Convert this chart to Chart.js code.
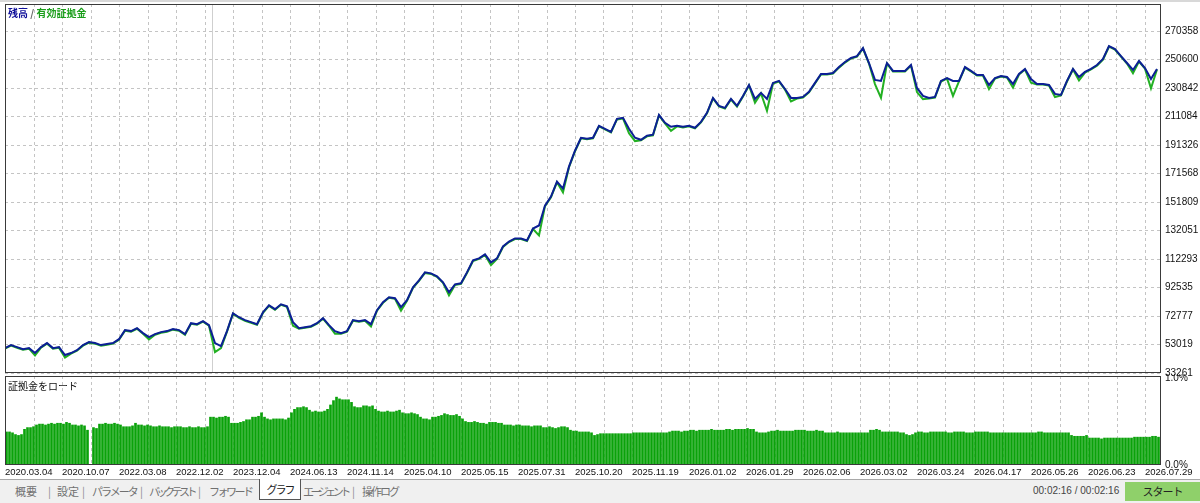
<!DOCTYPE html>
<html>
<head>
<meta charset="utf-8">
<script src="https://cdn.jsdelivr.net/npm/chart.js@4"></script>
<style>
  html, body { margin: 0; padding: 0; width: 1200px; height: 503px; overflow: hidden; background: #fff; }
  .topline { position: absolute; left: 0; top: 0; width: 1200px; height: 2px; background: #d8d8d8; }
  #top { position: absolute; left: 0; top: 0; }
  #bot { position: absolute; left: 0; top: 374px; }
  .lbl { position: absolute; font: bold 10px "Noto Sans CJK JP", sans-serif; white-space: nowrap; }
  .tabs { position: absolute; left: 0; top: 479px; width: 1200px; height: 24px; background: #f0f0f0; border-top: 1px solid #a8a8a8; }
  .tab, .sep { position: absolute; top: 3px; font: 11px "Noto Sans CJK JP", sans-serif; color: #707070; white-space: nowrap; }
  .sep { color: #8a8a8a; }
  .active { position: absolute; left: 259px; top: -1px; width: 40px; height: 20px; background: #fff;
            border: 1px solid #555; border-top: none; font: 11px "Noto Sans CJK JP", sans-serif; color: #222;
            text-align: center; line-height: 20px; letter-spacing: -2px; }
  .timer { position: absolute; left: 1033px; top: 5px; font: 10px "Liberation Sans", sans-serif; color: #444; white-space: nowrap; }
  .start { position: absolute; left: 1125px; top: 2px; width: 75px; height: 19px; background: #8fd06a;
           font: 11px "Noto Sans CJK JP", sans-serif; color: #222; text-align: center; line-height: 19px; letter-spacing: -1px; }
</style>
</head>
<body>
<div class="topline"></div>
<canvas id="top" width="1200" height="376"></canvas>
<canvas id="bot" width="1200" height="104"></canvas>
<div class="lbl" style="left:8px;top:5px"><span style="color:#10109a">残高</span><span style="color:#666"> / </span><span style="color:#1a9e1a">有効証拠金</span></div>
<div class="lbl" style="left:8px;top:378px;color:#111;font-weight:normal">証拠金をロード</div>
<div class="tabs">
  <span class="tab" style="left:15px">概要</span><span class="sep" style="left:48px">|</span>
  <span class="tab" style="left:57px">設定</span><span class="sep" style="left:82px">|</span>
  <span class="tab" style="left:92px;letter-spacing:-2px">パラメータ</span><span class="sep" style="left:140px">|</span>
  <span class="tab" style="left:149px;letter-spacing:-3.5px">バックテスト</span><span class="sep" style="left:198px">|</span>
  <span class="tab" style="left:209px;letter-spacing:-2.5px">フォワード</span>
  <div class="active">グラフ</div>
  <span class="tab" style="left:303px;letter-spacing:-3.5px">エージェント</span><span class="sep" style="left:352px">|</span>
  <span class="tab" style="left:362px;letter-spacing:-2px">操作ログ</span>
  <span class="timer">00:02:16 / 00:02:16</span>
  <div class="start">スタート</div>
</div>
<script>
// ─── Data ─────────────────────────────────────
const balance = [
  50500, 52600, 51200, 49800, 50500, 47100, 51200, 54000, 50500, 51200,
  45700, 47100, 49100, 52600, 54700, 54000, 52600, 53300, 54000, 56700,
  63000, 62300, 64300, 60900, 58100, 60200, 61600, 62300, 63700, 63000,
  60200, 67800, 67100, 69200, 66400, 54000, 51900, 62300, 74700, 71900,
  69900, 68500, 67100, 75400, 80200, 77500, 80900, 79500, 68500, 64300,
  65000, 65700, 67800, 71300, 66400, 62300, 60900, 62300, 69900, 69200,
  69900, 67100, 76800, 82300, 85800, 85100, 78900, 83700, 92700, 97500,
  103000, 102300, 100300, 96100, 89200, 94700, 95400, 103000, 111300, 112700,
  115500, 109900, 112700, 121000, 124400, 126500, 126500, 125100, 133400, 135500,
  149300, 155500, 165900, 161100, 176300, 187300, 196300, 195600, 196300, 204600,
  202500, 200400, 209400, 210100, 202500, 196300, 194900, 197700, 198400, 212200,
  206700, 203900, 204600, 203900, 204600, 203200, 207300, 213600, 223900, 218400,
  217000, 223200, 218400, 225300, 232900, 223200, 227400, 223200, 234300, 235700,
  230100, 223900, 223900, 224600, 228100, 234300, 240500, 240500, 241200, 245300,
  248800, 251600, 252900, 258500, 248100, 236400, 235700, 248100, 242600, 242600,
  242600, 246700, 230800, 225300, 223900, 224600, 235700, 237700, 235700, 235700,
  245300, 242600, 239800, 239800, 232900, 237700, 239100, 238400, 233600, 240500,
  244000, 237000, 233600, 233600, 232900, 226700, 226000, 235700, 244000, 238400,
  241900, 244000, 246700, 250900, 259800, 257800, 252900, 248100, 243300, 249500,
  244600, 237000, 244000
];
const equity = [
  50100, 52200, 50800, 49400, 50100, 45500, 50800, 53600, 50100, 50800,
  44000, 46700, 48700, 52200, 54300, 53600, 52200, 52900, 53600, 56300,
  62600, 61900, 63900, 60500, 56500, 59800, 61200, 61900, 63300, 62600,
  59800, 67400, 66700, 68800, 66000, 47800, 50500, 61900, 74300, 71500,
  69500, 68100, 66700, 75000, 79800, 77100, 80500, 79100, 66000, 63900,
  64600, 65300, 67400, 70900, 66000, 60500, 60500, 61900, 69500, 68800,
  69500, 65500, 76400, 81900, 85400, 84700, 76500, 83300, 92300, 97100,
  102600, 101900, 99900, 95700, 87000, 94300, 95000, 102600, 110900, 112300,
  115100, 108000, 112300, 120600, 124000, 126100, 126100, 124700, 133000, 128600,
  148900, 155100, 165500, 158500, 175900, 186900, 195900, 195200, 195900, 204200,
  202100, 200000, 209000, 209700, 199500, 194000, 194500, 197300, 198000, 211800,
  206300, 201000, 204200, 203500, 204200, 202800, 206900, 213200, 223500, 218000,
  216600, 222800, 218000, 224900, 232500, 220500, 227000, 215000, 233900, 235300,
  229700, 221500, 223500, 224200, 227700, 233900, 240100, 240100, 240800, 244900,
  248400, 251200, 252500, 258100, 247700, 233500, 224000, 247700, 242200, 242200,
  242200, 246300, 228000, 223000, 223500, 224200, 235300, 237300, 225300, 235300,
  244900, 242200, 239400, 239400, 230000, 237300, 238700, 238000, 231000, 240100,
  243600, 234500, 233200, 233200, 232500, 224500, 225600, 235300, 243600, 236000,
  241500, 243600, 246300, 250500, 259400, 257400, 252500, 247700, 241000, 249100,
  244200, 230500, 243600
];
// deposit load, % (one value per deal)
const depositLoad = [
  .38,.38,.37,.35,.34,.35,.41,.43,.43,.44, .46,.47,.47,.46,.47,.48,.47,.48,.48,.47,
  .49,.48,.46,.46,.45,.46,.45,.40,0,.43, .42,.47,.47,.48,.47,.47,.48,.47,.46,.44,
  .44,.44,.45,.48,.46,.46,.45,.46,.45,.44, .44,.45,.44,.44,.44,.43,.44,.44,.44,.43,
  .43,.44,.43,.43,.44,.43,.43,.44,.55,.55, .54,.55,.55,.56,.55,.48,.48,.48,.49,.50,
  .52,.52,.55,.55,.56,.60,.55,.53,.52,.53, .53,.53,.53,.52,.54,.60,.64,.66,.66,.67,
  .66,.63,.61,.62,.61,.61,.62,.64,.69,.74, .78,.76,.75,.75,.75,.72,.67,.66,.66,.68,
  .68,.67,.68,.64,.62,.61,.61,.62,.61,.61, .62,.63,.60,.59,.59,.60,.59,.58,.55,.53,
  .53,.52,.55,.55,.56,.57,.59,.58,.57,.57, .58,.56,.53,.50,.49,.49,.50,.49,.48,.48,
  .47,.49,.49,.49,.48,.48,.46,.46,.46,.45, .46,.46,.45,.45,.45,.44,.45,.45,.45,.43,
  .43,.44,.43,.42,.43,.44,.44,.43,.40,.39, .39,.38,.38,.38,.38,.37,.34,.35,.36,.36,
  .36,.36,.36,.36,.36,.36,.36,.36,.36,.37, .37,.37,.37,.37,.37,.37,.37,.37,.37,.37,
  .37,.38,.39,.39,.39,.38,.39,.39,.40,.40, .39,.40,.40,.40,.40,.41,.40,.40,.40,.40,
  .41,.41,.40,.41,.41,.41,.41,.42,.41,.41, .38,.37,.37,.37,.38,.39,.39,.40,.39,.39,
  .39,.39,.39,.40,.40,.40,.40,.39,.39,.39, .40,.39,.39,.37,.37,.37,.37,.38,.37,.37,
  .37,.37,.37,.37,.37,.37,.37,.37,.40,.40, .41,.40,.38,.38,.38,.38,.38,.38,.37,.37,
  .35,.34,.35,.37,.38,.38,.37,.37,.38,.38, .38,.38,.38,.38,.37,.37,.38,.38,.38,.38,
  .37,.37,.37,.38,.38,.38,.38,.38,.37,.37, .37,.37,.37,.37,.37,.37,.37,.37,.37,.37,
  .37,.37,.37,.37,.38,.38,.37,.37,.37,.37, .37,.37,.37,.37,.37,.34,.33,.33,.33,.33,
  .34,.31,.31,.31,.31,.30,.31,.31,.31,.31, .31,.31,.31,.31,.31,.31,.32,.32,.32,.32,
  .32,.32,.33,.33,.32
];
const yTicks = [33261, 53019, 72777, 92535, 112293, 132051, 151809, 171568, 191326, 211084, 230842, 250600, 270358];
const loadTicks = [0, 1];
const dateLabels = [
  '2020.03.04', '2020.10.07', '2022.03.08', '2022.12.02', '2023.12.04', '2024.06.13', '2024.11.14',
  '2025.04.10', '2025.05.15', '2025.07.31', '2025.10.20', '2025.11.19', '2026.01.02', '2026.01.29',
  '2026.02.06', '2026.03.02', '2026.03.24', '2026.04.17', '2026.05.26', '2026.06.23', '2026.07.29'
];
const splitAt = 34.5;   // balance index of the grey separator line

// ─── Layout ───────────────────────────────────
const AREA_W = 1156;     // plot width, px
const GRID_PX = 28.5;    // vertical grid spacing, px
const LINE_PX = AREA_W / (balance.length - 1 + 0.67);
const BAR_PX = AREA_W / (depositLoad.length + 0.33);

const tickFont = { family: '"Liberation Sans", Arial, sans-serif', size: 10 };
const gridCol = '#c4c4c4';
const noGrid = { display: false, drawTicks: false };

function gridTicks(unitPx) {
  const t = [];
  for (let k = 0; k * GRID_PX <= AREA_W; k++) t.push({ value: k * GRID_PX / unitPx });
  return t;
}

// dashed grid, drawn on whole pixels so the dashes stay crisp
const dashGrid = {
  id: 'dashGrid',
  beforeDatasetsDraw(c, args, opts) {
    const { ctx, chartArea: a } = c;
    ctx.save();
    ctx.strokeStyle = gridCol;
    ctx.lineWidth = 1;
    ctx.setLineDash([3, 3]);
    ctx.beginPath();
    for (const t of c.scales.x.ticks) {
      const x = Math.round(c.scales.x.getPixelForValue(t.value)) + 0.5;
      ctx.moveTo(x, a.top); ctx.lineTo(x, a.bottom);
    }
    if (opts.horizontal) {
      for (const t of c.scales.y.ticks) {
        const y = Math.round(c.scales.y.getPixelForValue(t.value)) + 0.5;
        ctx.moveTo(a.left, y); ctx.lineTo(a.right, y);
      }
    }
    ctx.stroke();
    ctx.restore();
  }
};

const frame = {
  id: 'frame',
  afterDraw(c) {
    const { ctx, chartArea: a } = c;
    ctx.save();
    ctx.strokeStyle = '#3a3a3a';
    ctx.lineWidth = 1;
    ctx.strokeRect(a.left + 0.5, a.top + 0.5, a.right - a.left - 1, a.bottom - a.top - 1);
    ctx.restore();
  }
};

const splitLine = {
  id: 'splitLine',
  beforeDatasetsDraw(c) {
    const { ctx, chartArea: a } = c;
    const x = Math.round(c.scales.x.getPixelForValue(splitAt)) + 0.5;
    ctx.save();
    ctx.strokeStyle = '#cfcfcf';
    ctx.lineWidth = 1;
    ctx.beginPath(); ctx.moveTo(x, a.top); ctx.lineTo(x, a.bottom); ctx.stroke();
    ctx.restore();
  }
};

// ─── Balance / equity ─────────────────────────
new Chart(document.getElementById('top'), {
  type: 'line',
  data: {
    datasets: [
      { label: '残高', data: balance.map((v, i) => ({ x: i, y: v })),
        borderColor: '#0c1f95', borderWidth: 2, pointRadius: 0, tension: 0 },
      { label: '有効証拠金', data: equity.map((v, i) => ({ x: i, y: v })),
        borderColor: '#22b022', borderWidth: 2, pointRadius: 0, tension: 0 },
    ],
  },
  options: {
    responsive: false, animation: false, events: [], devicePixelRatio: 1,
    layout: { padding: { left: 5, top: 4, right: 0, bottom: 3 } },
    plugins: { legend: { display: false }, tooltip: { enabled: false }, dashGrid: { horizontal: true } },
    scales: {
      x: {
        type: 'linear', min: 0, max: AREA_W / LINE_PX,
        afterBuildTicks(s) { s.ticks = gridTicks(LINE_PX); },
        afterFit(s) { s.height = 0; s.paddingLeft = 0; s.paddingRight = 0; },
        ticks: { display: false },
        grid: noGrid,
        border: { display: false },
      },
      y: {
        position: 'right', min: 33261, max: 289000,
        afterBuildTicks(s) { s.ticks = yTicks.map(v => ({ value: v })); },
        afterFit(s) { s.width = 39; s.paddingTop = 0; s.paddingBottom = 0; },
        ticks: { color: '#111', font: tickFont, padding: 4, callback: v => String(v) },
        grid: noGrid,
        border: { display: false },
      },
    },
  },
  plugins: [dashGrid, splitLine, frame],
});

// ─── Deposit load ─────────────────────────────
new Chart(document.getElementById('bot'), {
  type: 'bar',
  data: {
    datasets: [{
      data: depositLoad.map((v, i) => ({ x: i + 0.5, y: v })),
      backgroundColor: '#0aa20a', barThickness: 2,
    }],
  },
  options: {
    responsive: false, animation: false, events: [], devicePixelRatio: 1,
    layout: { padding: { left: 5, top: 2, right: 0, bottom: 0 } },
    plugins: { legend: { display: false }, tooltip: { enabled: false }, dashGrid: { horizontal: false } },
    scales: {
      x: {
        type: 'linear', min: 0, max: AREA_W / BAR_PX, offset: false,
        afterBuildTicks(s) { s.ticks = gridTicks(BAR_PX); },
        afterFit(s) { s.height = 13; s.paddingLeft = 0; s.paddingRight = 0; },
        ticks: {
          color: '#111', font: { family: '"Liberation Sans", Arial, sans-serif', size: 9.5 },
          align: 'start', padding: 2, autoSkip: false, maxRotation: 0,
          callback: (v, i) => (i % 2 === 0 ? dateLabels[i / 2] : ''),
        },
        grid: { display: false, drawTicks: false, offset: false },
        border: { display: false },
      },
      y: {
        position: 'right', min: 0, max: 1.023,
        afterBuildTicks(s) { s.ticks = loadTicks.map(v => ({ value: v })); },
        afterFit(s) { s.width = 39; s.paddingTop = 0; s.paddingBottom = 0; },
        ticks: { color: '#111', font: tickFont, padding: 4, callback: v => v.toFixed(1) + '%' },
        grid: noGrid,
        border: { display: false },
      },
    },
  },
  plugins: [dashGrid, frame],
});
</script>
</body>
</html>
